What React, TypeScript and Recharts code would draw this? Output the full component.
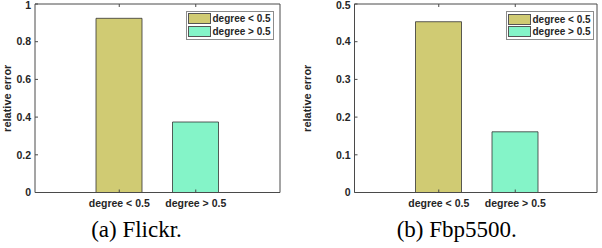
import { Bar, BarChart, Cell, Legend, XAxis, YAxis } from "recharts";

const categories = ["degree < 0.5", "degree > 0.5"];
const flickrErrors = [0.924, 0.374];
const fbpErrors = [0.453, 0.161];
const flickrTicks = [0, 0.2, 0.4, 0.6, 0.8, 1];
const fbpTicks = [0, 0.1, 0.2, 0.3, 0.4, 0.5];
const barColors = ["#d0cb73", "#84f4c8"];

const axisColor = "#4a4a4a";
const textColor = "#262626";
const sans = "'Liberation Sans', Arial, sans-serif";
const lift = 6; // svg starts above the page so the top tick label is not clipped

function LeftTick({ x, y, payload }: any) {
  // x sits tickMargin (4) left of the axis line; keep the top label inside the page
  const ty = Math.max(y, lift + 5.5);
  return (
    <g>
      <line x1={x + 4} x2={x + 7} y1={y} y2={y} stroke={axisColor} />
      <text x={x} y={ty} dy="0.36em" textAnchor="end" fontFamily={sans} fontSize={10.5} fontWeight="bold" fill={textColor}>
        {String(payload.value)}
      </text>
    </g>
  );
}

function RightTick({ x, y }: any) {
  return <line x1={x - 3} x2={x} y1={y} y2={y} stroke={axisColor} />;
}

function BottomTick({ x, y, payload }: any) {
  return (
    <g>
      <line x1={x} x2={x} y1={y - 7} y2={y - 10} stroke={axisColor} />
      <text x={x} y={y} dy="0.71em" textAnchor="middle" fontFamily={sans} fontSize={10.5} fontWeight="bold" fill={textColor}>
        {payload.value}
      </text>
    </g>
  );
}

function TopTick({ x, y }: any) {
  return <line x1={x} x2={x} y1={y} y2={y + 3} stroke={axisColor} />;
}

function LegendBox() {
  return (
    <div
      style={{
        boxSizing: "border-box",
        border: "1px solid #8c8c8c",
        background: "#fff",
        padding: "1px 1px",
        fontFamily: sans,
      }}
    >
      {categories.map((c, i) => (
        <div key={c} style={{ display: "flex", alignItems: "center", height: 12.5 }}>
          <span
            style={{
              boxSizing: "border-box",
              width: 23,
              height: 11,
              background: barColors[i],
              border: "1px solid #555",
            }}
          />
          <span style={{ marginLeft: 2, fontSize: 10, fontWeight: "bold", color: textColor, whiteSpace: "nowrap" }}>
            {c}
          </span>
        </div>
      ))}
    </div>
  );
}

function Panel({
  values,
  ticks,
  left,
  width,
  yAxisWidth,
  rightMargin,
  padRight,
  legendLeft,
  legendTop,
  legendWidth,
}: {
  values: number[];
  ticks: number[];
  left: number;
  width: number;
  yAxisWidth: number;
  rightMargin: number;
  padRight: number;
  legendLeft: number;
  legendTop: number;
  legendWidth: number;
}) {
  const data = categories.map((c, i) => ({ category: c, value: values[i] }));
  const domain = [0, ticks[ticks.length - 1]];
  return (
    <div style={{ position: "absolute", left, top: -lift }}>
      <BarChart
        width={width}
        height={215 + lift}
        data={data}
        margin={{ top: 3 + lift, right: rightMargin, bottom: 2.5, left: 0 }}
      >
        <XAxis
          dataKey="category"
          height={20}
          padding={{ left: 46, right: padRight }}
          axisLine={{ stroke: axisColor }}
          tickLine={false}
          tickSize={0}
          tickMargin={7}
          tick={<BottomTick />}
          interval={0}
        />
        <XAxis
          xAxisId="top"
          orientation="top"
          dataKey="category"
          height={1}
          padding={{ left: 46, right: padRight }}
          axisLine={{ stroke: axisColor }}
          tickLine={false}
          tickSize={0}
          tickMargin={0}
          tick={<TopTick />}
          interval={0}
        />
        <YAxis
          width={yAxisWidth}
          domain={domain}
          ticks={ticks}
          axisLine={{ stroke: axisColor }}
          tickLine={false}
          tickSize={0}
          tickMargin={4}
          tick={<LeftTick />}
          interval={0}
          label={{
            value: "relative error",
            angle: -90,
            position: "insideLeft",
            offset: 7,
            style: { textAnchor: "middle" },
            fontFamily: sans,
            fontSize: 11,
            fontWeight: "bold",
            fill: textColor,
          }}
        />
        <YAxis
          yAxisId="right"
          orientation="right"
          width={2}
          domain={domain}
          ticks={ticks}
          axisLine={{ stroke: axisColor }}
          tickLine={false}
          tickSize={0}
          tickMargin={0}
          tick={<RightTick />}
          interval={0}
        />
        <Legend
          layout="vertical"
          align="center"
          verticalAlign="middle"
          content={<LegendBox />}
          wrapperStyle={{ left: legendLeft, top: legendTop + lift, width: legendWidth }}
        />
        <Bar dataKey="value" barSize={46} stroke="#333" strokeWidth={0.8} isAnimationActive={false}>
          {data.map((d, i) => (
            <Cell key={d.category} fill={barColors[i]} />
          ))}
        </Bar>
      </BarChart>
    </div>
  );
}

const captionStyle = {
  position: "absolute" as const,
  top: 218,
  width: 240,
  textAlign: "center" as const,
  fontFamily: "'Liberation Serif', 'Times New Roman', 'DejaVu Serif', serif",
  fontSize: 23,
  lineHeight: "23px",
  color: "#000",
};

export default function App() {
  return (
    <div style={{ position: "relative", width: 602, height: 248, background: "#fff", overflow: "hidden" }}>
      <style>{"body{margin:0}"}</style>
      <Panel
        values={flickrErrors}
        ticks={flickrTicks}
        left={0}
        width={300}
        yAxisWidth={35}
        rightMargin={18}
        padRight={46}
        legendLeft={185.5}
        legendTop={10.5}
        legendWidth={88.5}
      />
      <Panel
        values={fbpErrors}
        ticks={fbpTicks}
        left={300}
        width={302}
        yAxisWidth={54.5}
        rightMargin={3}
        padRight={43.5}
        legendLeft={205.5}
        legendTop={11}
        legendWidth={88}
      />
      <div style={{ ...captionStyle, left: 16.5 }}>(a) Flickr.</div>
      <div style={{ ...captionStyle, left: 336.7 }}>(b) Fbp5500.</div>
    </div>
  );
}
